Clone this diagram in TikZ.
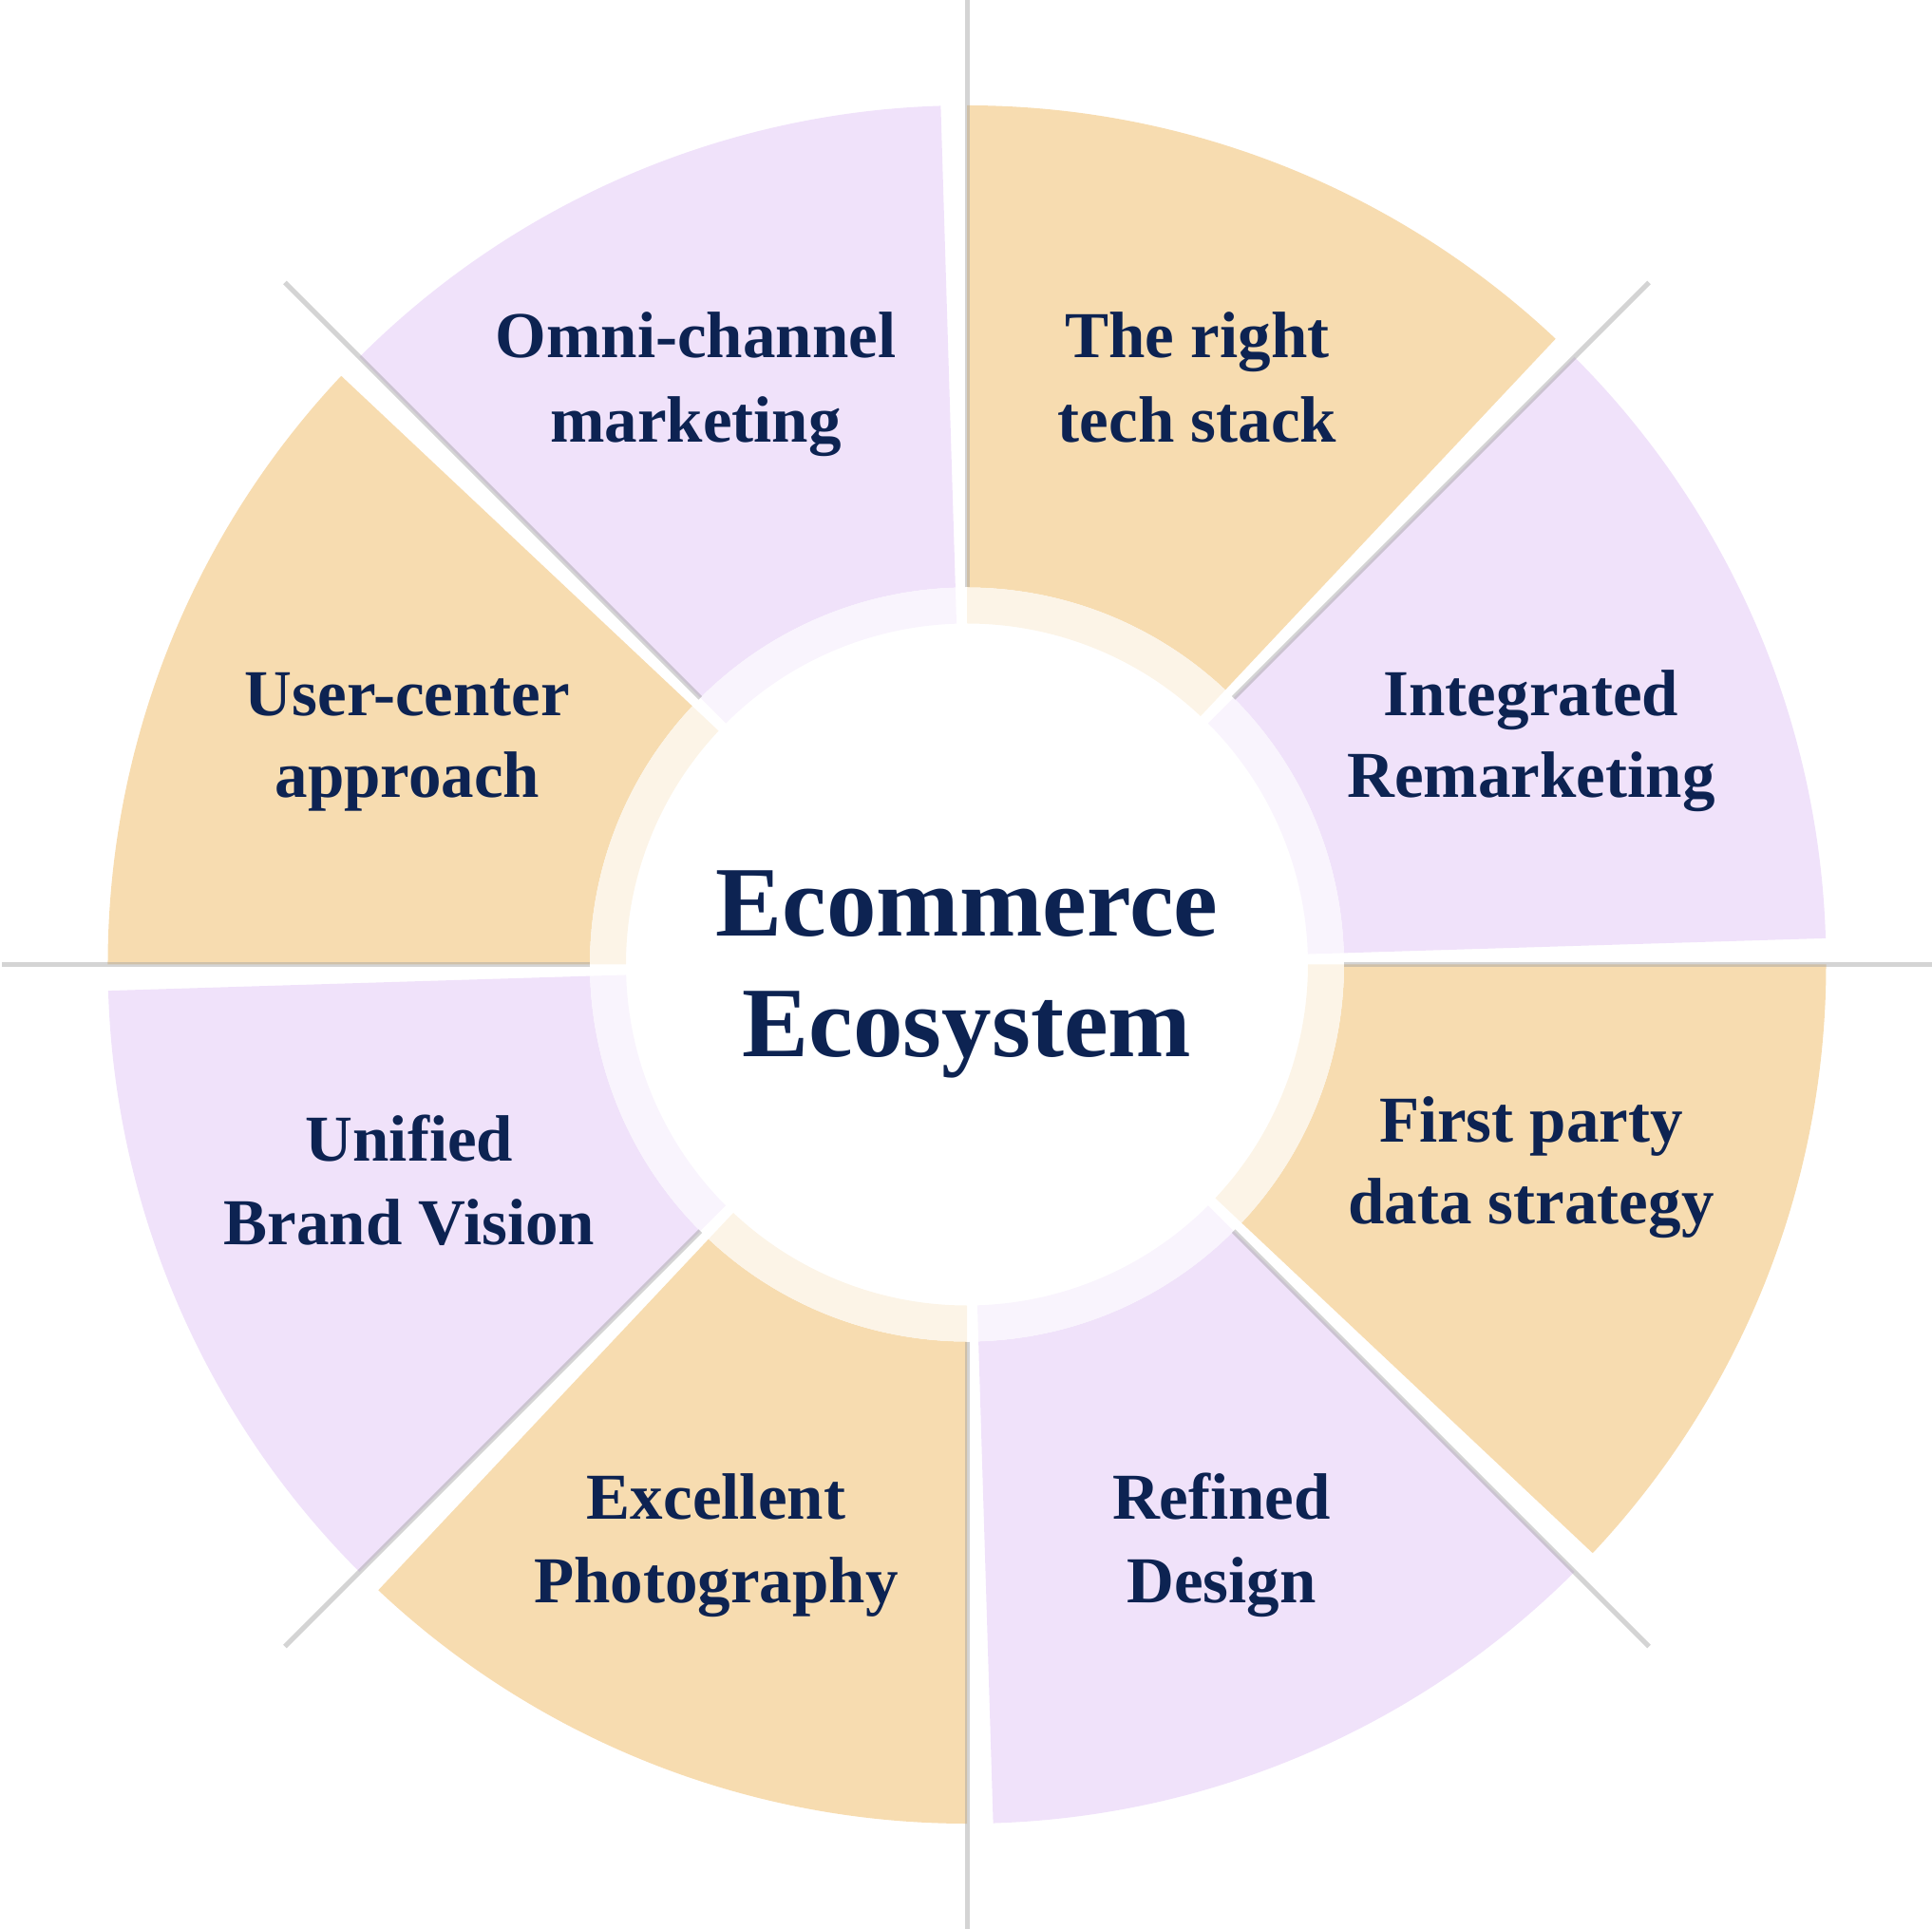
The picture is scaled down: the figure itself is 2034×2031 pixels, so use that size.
\documentclass[tikz,border=0pt]{standalone}
\usepackage{fontspec}
\setmainfont{Liberation Serif}
\definecolor{orangeS}{RGB}{247,220,176}
\definecolor{purpleS}{RGB}{240,226,250}
\definecolor{orangeR}{RGB}{252,244,231}
\definecolor{purpleR}{RGB}{249,244,253}
\definecolor{grayL}{RGB}{159,159,159}
\definecolor{navy}{RGB}{13,35,82}
\begin{document}
\begin{tikzpicture}[x=1pt,y=1pt,
  lbl/.style={text=navy, anchor=base, inner sep=0pt, font=\fontsize{69}{83}\selectfont\bfseries},
  big/.style={text=navy, anchor=base, inner sep=0pt, font=\fontsize{105}{126}\selectfont\bfseries},
  rayline/.style={draw=grayL, line width=5pt, opacity=0.45}]
\useasboundingbox (-1018pt,-1015.5pt) rectangle (1016pt,1015.5pt);
% sectors and inner ring segments
\foreach \k in {0,...,7}{
  \pgfmathsetmacro\a{90-45*\k}
  \pgfmathsetmacro\b{\a-43.25}
  \pgfmathtruncatemacro\myparity{mod(\k,2)}
  \ifnum\myparity=0 \def\sc{orangeS}\def\rc{orangeR}\else \def\sc{purpleS}\def\rc{purpleR}\fi
  \fill[\sc] (\a:397pt) -- (\a:904.5pt) arc[start angle=\a, end angle=\b, radius=904.5pt]
     -- (\b:397pt) arc[start angle=\b, end angle=\a, radius=397pt] -- cycle;
  \fill[\rc] (\a:359pt) -- (\a:397pt) arc[start angle=\a, end angle=\b, radius=397pt]
     -- (\b:359pt) arc[start angle=\b, end angle=\a, radius=359pt] -- cycle;
}
% gray rays
\foreach \a in {0,45,...,315}{
  \draw[rayline] (\a:397pt) -- (\a:1015.5pt);
}
% labels
\node[lbl] (omniA) at (-285.5pt,638.5pt) {Omni-channel};
\node[lbl] (omniB) at (-285.5pt,550pt) {marketing};
\node[lbl] (techA) at (242.5pt,638.5pt) {The right};
\node[lbl] (techB) at (242.5pt,550pt) {tech stack};
\node[lbl] (userA) at (-589pt,262pt) {User-center};
\node[lbl] (userB) at (-589pt,175.5pt) {approach};
\node[lbl] (integA) at (594pt,262pt) {Integrated};
\node[lbl] (integB) at (594pt,175.5pt) {Remarketing};
\node[big] (ecoA) at (0pt,29.5pt) {Ecommerce};
\node[big] (ecoB) at (0pt,-97.5pt) {Ecosystem};
\node[lbl] (unifA) at (-587pt,-206.5pt) {Unified};
\node[lbl] (unifB) at (-587pt,-294.5pt) {Brand Vision};
\node[lbl] (firstA) at (594pt,-186.5pt) {First party};
\node[lbl] (firstB) at (594pt,-272.5pt) {data strategy};
\node[lbl] (excA) at (-264pt,-583.5pt) {Excellent};
\node[lbl] (excB) at (-264pt,-671.5pt) {Photography};
\node[lbl] (refA) at (268pt,-583.5pt) {Refined};
\node[lbl] (refB) at (268pt,-671.5pt) {Design};
\end{tikzpicture}
\end{document}
